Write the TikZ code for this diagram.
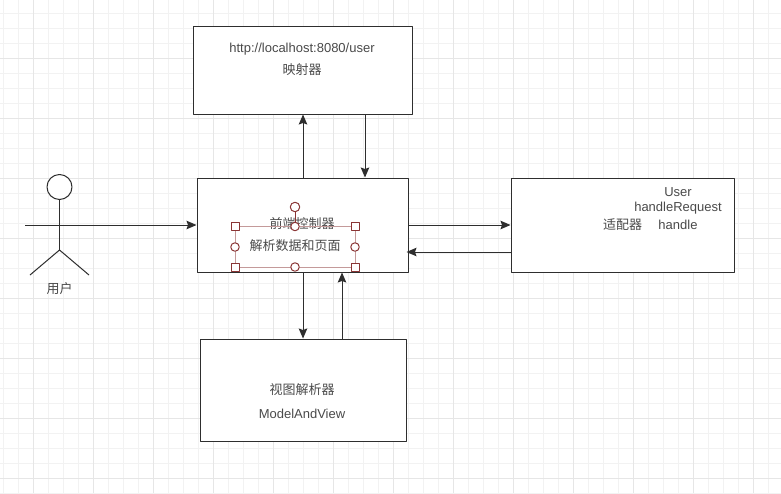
\documentclass[tikz,border=0pt]{standalone}
\usepackage{fontspec}
\setmainfont{Liberation Sans}
\newfontfamily\cjk{Noto Sans CJK SC}
\definecolor{gridminor}{HTML}{F2F2F2}
\definecolor{gridmajor}{HTML}{E6E6E6}
\definecolor{inkline}{HTML}{2E2E2E}
\definecolor{inktext}{HTML}{4A4A4A}
\definecolor{handle}{HTML}{8A3535}
\definecolor{selline}{HTML}{C49A9A}
\tikzset{
	box/.style={draw=inkline,fill=white,line width=1pt,inner sep=0pt},
	label/.style={text=inktext,font=\fontsize{13}{15}\selectfont,inner sep=0pt},
	arr/.style={draw=inkline,line width=1pt,-{Stealth[length=10pt,width=8.5pt,inset=1.5pt]}},
	actorline/.style={draw=inkline,line width=1pt},
	hsquare/.style={draw=handle,fill=white,line width=1pt,minimum size=8pt,inner sep=0pt},
	hcircle/.style={draw=handle,fill=white,line width=1pt,circle,minimum size=8.5pt,inner sep=0pt}
}
\usetikzlibrary{arrows.meta}
\begin{document}
\begin{tikzpicture}[x=1pt,y=-1pt,line join=round]
	\useasboundingbox (0,0) rectangle (781,493);
	\fill[white] (0,0) rectangle (781,493);
	% grid
	\foreach \x in {3,18,...,783}\draw[gridminor] (\x,0)--(\x,493);
	\foreach \y in {13,28,...,493}\draw[gridminor] (0,\y)--(781,\y);
	\foreach \x in {33,93,...,783}\draw[gridmajor] (\x,0)--(\x,493);
	\foreach \y in {58,118,...,493}\draw[gridmajor] (0,\y)--(781,\y);
	% boxes
	\node[box,minimum width=219pt,minimum height=88pt] (mapper) at (302.5,70) {};
	\node[box,minimum width=211pt,minimum height=94pt] (ctrl) at (302.5,225) {};
	\node[box,minimum width=223pt,minimum height=94pt] (adapter) at (622.5,225) {};
	\node[box,minimum width=206pt,minimum height=102pt] (resolver) at (303,390) {};
	% actor
	\node[box,circle,minimum size=25pt] (head) at (59.5,187) {};
	\coordinate (hip) at (59.5,250);
	\coordinate (armL) at (25,225);
	\coordinate (armR) at (94,225);
	\coordinate (legL) at (30,275);
	\coordinate (legR) at (89,275);
	\draw[actorline] (head.south)--(hip);
	\draw[actorline] (armL)--(armR);
	\draw[actorline] (legL)--(hip)--(legR);
	\node[label] (userlabel) at (59.5,289) {\cjk 用户};
	% connectors
	\draw[arr] (armR)--(ctrl.west);
	\draw[arr] ([xshift=0.5pt]ctrl.north)--([xshift=0.5pt]mapper.south);
	\draw[arr] ([xshift=62.5pt]mapper.south)--([xshift=62.5pt]ctrl.north);
	\draw[arr] ([xshift=0.5pt]ctrl.south)--([xshift=0.5pt]ctrl.south|-resolver.north);
	\draw[arr] ([xshift=39.5pt]ctrl.south|-resolver.north)--([xshift=39.5pt]ctrl.south);
	\draw[arr] (ctrl.east)--(adapter.west);
	\draw[arr] ([yshift=-27pt]adapter.west)--([xshift=-2pt,yshift=-27pt]ctrl.east);
	% texts
	\node[label] (url) at (302,49) {http://localhost:8080/user};
	\node[label] (mappertext) at (302,70) {\cjk 映射器};
	\node[label] (ctrltext) at (302,224) {\cjk 前端控制器};
	\node[label] (parsetext) at (295,246) {\cjk 解析数据和页面};
	\node[label] (adaptertext) at (622.5,225) {\cjk 适配器};
	\node[label] (usertext) at (678,192) {User};
	\node[label] (reqtext) at (678,208) {handleRequest};
	\node[label] (handletext) at (678,225) {handle};
	\node[label] (resolvertext) at (302,390) {\cjk 视图解析器};
	\node[label] (mavtext) at (302,414) {ModelAndView};
	% selection
	\draw[selline,line width=1pt] (235,226.5) rectangle (355,267);
	\node[hcircle,minimum size=9.5pt] (rot) at (295,207) {};
	\draw[handle,line width=1pt] (rot.south)--(295,226.5);
	\foreach \x/\y in {235/226.5,355/226.5,235/267,355/267}\node[hsquare] at (\x,\y) {};
	\foreach \x/\y in {295/226.5,235/247,355/247,295/267}\node[hcircle] at (\x,\y) {};
\end{tikzpicture}
\end{document}
